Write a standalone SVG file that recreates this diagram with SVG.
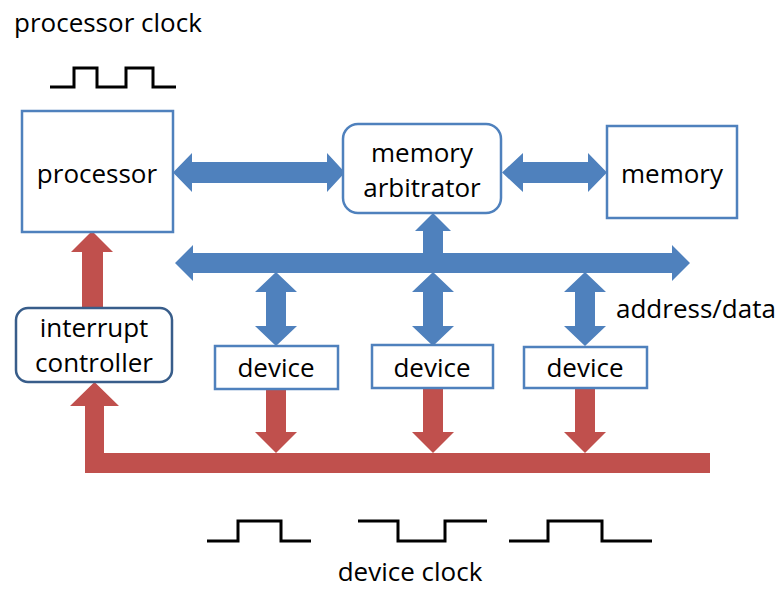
<svg xmlns="http://www.w3.org/2000/svg" width="782" height="590" viewBox="0 0 782 590">
  <style>
    text { font-family: "Open Sans", "Noto Sans", "Liberation Sans", sans-serif; font-size: 26px; fill: #000; }
    .mid { text-anchor: middle; }
    .box { fill: #fff; stroke: #4F81BD; stroke-width: 2.5; }
    .ctrl { fill: #fff; stroke: #385D8A; stroke-width: 2.5; }
    .bus { fill: #4F81BD; }
    .irq { fill: #C0504D; }
    .clk { fill: none; stroke: #000; stroke-width: 3; stroke-linejoin: miter; }
  </style>

  <!-- clock labels and waveforms -->
  <g id="processor-clock">
    <text x="14" y="32">processor clock</text>
    <polyline class="clk" points="50,87 74,87 74,68 97,68 97,87 126,87 126,68 153,68 153,87 176,87"/>
  </g>
  <g id="device-clock">
    <text class="mid" x="410" y="581">device clock</text>
    <polyline class="clk" points="207,541 238,541 238,521 281,521 281,541 311,541"/>
    <polyline class="clk" points="358,521 398,521 398,541 445,541 445,521 487,521"/>
    <polyline class="clk" points="509,541 548,541 548,521 602,521 602,541 652,541"/>
  </g>

  <!-- connectors -->
  <g id="connectors">
    <!-- processor <-> memory arbitrator -->
    <polygon class="bus" points="173,172.5 192,153 192,162 327,162 327,153 345,172.5 327,192 327,183 192,183 192,192"/>
    <!-- memory arbitrator <-> memory -->
    <polygon class="bus" points="502,172.5 523,153 523,162 588,162 588,153 607,172.5 588,192 588,183 523,183 523,192"/>
    <!-- address/data bus -->
    <polygon class="bus" points="175,263 193,245 193,253 672,253 672,245 690,263 672,281 672,273 193,273 193,281"/>
    <!-- bus -> memory arbitrator -->
    <polygon class="bus" points="433,213 451,231 443,231 443,254 423,254 423,231 415,231"/>
    <!-- bus <-> devices -->
    <polygon class="bus" points="276,272 297,292 286,292 286,326 297,326 276,346 255,326 266,326 266,292 255,292"/>
    <polygon class="bus" points="433,272 454,292 443,292 443,326 454,326 433,346 412,326 423,326 423,292 412,292"/>
    <polygon class="bus" points="585,272 606,292 595,292 595,326 606,326 585,346 564,326 575,326 575,292 564,292"/>
    <!-- device interrupt lines -->
    <polygon class="irq" points="266,389 286,389 286,432 297,432 276,453 255,432 266,432"/>
    <polygon class="irq" points="423,389 443,389 443,432 454,432 433,453 412,432 423,432"/>
    <polygon class="irq" points="575,389 595,389 595,432 606,432 585,453 564,432 575,432"/>
    <!-- interrupt line into controller -->
    <polygon class="irq" points="710,453 710,473 85,473 85,406 70,406 94.5,382 119,406 104,406 104,453"/>
    <!-- controller -> processor -->
    <polygon class="irq" points="82,309 82,252 71,252 92,231 113,252 103,252 103,309"/>
  </g>

  <!-- nodes -->
  <g id="processor">
    <rect class="box" x="22" y="111" width="151" height="121"/>
    <text class="mid" x="97" y="183">processor</text>
  </g>
  <g id="memory-arbitrator">
    <rect class="box" x="343" y="124" width="158" height="89" rx="15"/>
    <text class="mid" x="422" y="162">memory</text>
    <text class="mid" x="422" y="197">arbitrator</text>
  </g>
  <g id="memory">
    <rect class="box" x="607" y="126" width="130" height="92"/>
    <text class="mid" x="672" y="183">memory</text>
  </g>
  <g id="interrupt-controller">
    <rect class="ctrl" x="16" y="308" width="156" height="74" rx="12"/>
    <text class="mid" x="94" y="337">interrupt</text>
    <text class="mid" x="94" y="372">controller</text>
  </g>
  <g id="device-1">
    <rect class="box" x="215" y="346" width="123" height="43"/>
    <text class="mid" x="276" y="377">device</text>
  </g>
  <g id="device-2">
    <rect class="box" x="372" y="345" width="121" height="43"/>
    <text class="mid" x="432" y="377">device</text>
  </g>
  <g id="device-3">
    <rect class="box" x="524" y="347" width="123" height="41"/>
    <text class="mid" x="585" y="377">device</text>
  </g>
  <text id="bus-label" x="616" y="318">address/data</text>
</svg>
